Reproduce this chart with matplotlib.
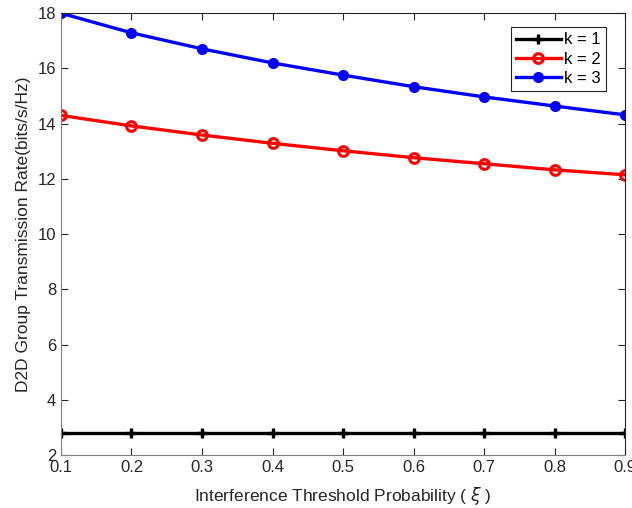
import matplotlib.pyplot as plt
import numpy as np

plt.rcParams['font.family'] = ['Liberation Sans', 'DejaVu Sans']

# 干扰门限概率
xi = [0.1, 0.2, 0.3, 0.4, 0.5, 0.6, 0.7, 0.8, 0.9]
rate_k1 = [2.8, 2.8, 2.8, 2.8, 2.8, 2.8, 2.8, 2.8, 2.8]
rate_k2 = [14.3, 13.92, 13.59, 13.29, 13.02, 12.77, 12.55, 12.33, 12.15]
rate_k3 = [18.0, 17.29, 16.71, 16.2, 15.76, 15.34, 14.97, 14.64, 14.32]
y_ticks = [2, 4, 6, 8, 10, 12, 14, 16, 18]

fig = plt.figure(figsize=(6.32, 5.08), dpi=100)
ax = fig.add_axes([0.0965, 0.104, 0.8925, 0.870])

ax.plot(xi, rate_k1, color='black', lw=2.4, marker='+', ms=7, mew=2.4, label='k = 1')
ax.plot(xi, rate_k2, color='red', lw=2.4, marker='o', ms=7, mew=2.2, mfc='none', label='k = 2')
ax.plot(xi, rate_k3, color='blue', lw=2.4, marker='o', ms=7, mfc='blue', label='k = 3')

ax.set_xlim(0.1, 0.9)
ax.set_ylim(2, 18)
ax.set_xticks(xi)
ax.set_yticks(y_ticks)
ax.tick_params(direction='in', length=5, labelsize=12, colors='#262626', top=True, right=True)
for side in ['left', 'bottom']:
    ax.spines[side].set_color('#808080')
for side in ['top', 'right']:
    ax.spines[side].set_color('#262626')

ax.set_xlabel(r'Interference Threshold Probability ( $\xi$ )', fontsize=12.5, color='#262626', labelpad=7)
ax.set_ylabel('D2D Group Transmission Rate(bits/s/Hz)', fontsize=12.5, color='#262626', labelpad=5)

leg = ax.legend(loc='upper right', bbox_to_anchor=(0.966, 0.968), borderaxespad=0, fontsize=12,
                fancybox=False, edgecolor='#262626', handlelength=2.7, borderpad=0.3,
                labelspacing=0.25, handletextpad=0.2, framealpha=1)
leg.get_frame().set_linewidth(0.8)

plt.savefig('out.png', dpi=100)
